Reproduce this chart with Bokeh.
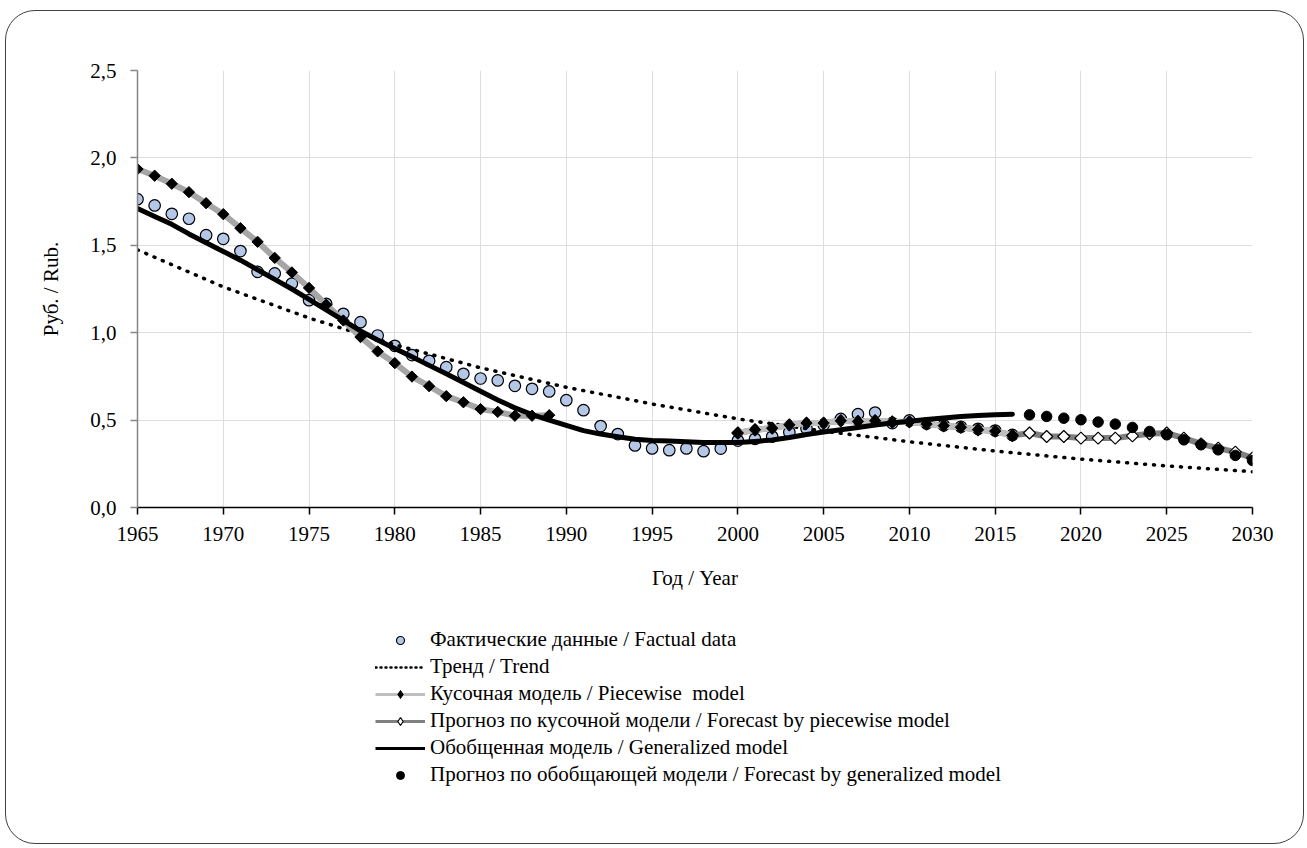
from bokeh.plotting import figure
from bokeh.layouts import column
from bokeh.models import (Legend, LegendItem, FixedTicker, CustomJSTickFormatter,
                          Range1d)
from bokeh.embed import file_html
from bokeh.resources import INLINE

# ---- data -------------------------------------------------------------
fact_years = list(range(1965, 2017))
fact_vals = [1.764, 1.728, 1.680, 1.652, 1.558, 1.537, 1.467, 1.348, 1.339, 1.281,
             1.186, 1.165, 1.108, 1.060, 0.984, 0.925, 0.872, 0.839, 0.803, 0.765,
             0.738, 0.727, 0.696, 0.679, 0.664, 0.614, 0.557, 0.466, 0.420, 0.355,
             0.338, 0.328, 0.338, 0.322, 0.337, 0.383, 0.393, 0.406, 0.431, 0.452,
             0.473, 0.507, 0.534, 0.543, 0.483, 0.498, 0.480, 0.470, 0.462, 0.450,
             0.440, 0.415]

trend_years = [1965, 1970, 1975, 1980, 1985, 1990, 1995, 2000, 2005, 2010, 2015,
               2020, 2025, 2030]
trend_vals = [1.474, 1.262, 1.084, 0.931, 0.799, 0.688, 0.592, 0.507, 0.437, 0.376,
              0.323, 0.277, 0.238, 0.205]

piece1_years = list(range(1965, 1990))
piece1_vals = [1.936, 1.898, 1.852, 1.804, 1.741, 1.678, 1.598, 1.520, 1.428, 1.345,
               1.256, 1.160, 1.070, 0.975, 0.893, 0.826, 0.749, 0.694, 0.637, 0.602,
               0.563, 0.547, 0.525, 0.525, 0.528]

piece2_years = list(range(2000, 2017))
piece2_vals = [0.426, 0.445, 0.454, 0.473, 0.483, 0.483, 0.496, 0.492, 0.496, 0.489,
               0.490, 0.477, 0.468, 0.459, 0.445, 0.437, 0.412]

piece_fc_years = list(range(2017, 2031))
piece_fc_vals = [0.426, 0.406, 0.406, 0.397, 0.397, 0.397, 0.410, 0.422, 0.426, 0.397,
                 0.364, 0.340, 0.317, 0.283]

gen_years = list(range(1965, 2017))
gen_vals = [1.710, 1.665, 1.620, 1.565, 1.515, 1.465, 1.415, 1.360, 1.305, 1.250,
            1.190, 1.130, 1.070, 1.010, 0.958, 0.910, 0.862, 0.813, 0.765, 0.715,
            0.665, 0.615, 0.570, 0.532, 0.500, 0.470, 0.440, 0.420, 0.405, 0.390,
            0.383, 0.380, 0.376, 0.372, 0.372, 0.372, 0.378, 0.386, 0.400, 0.418,
            0.432, 0.445, 0.458, 0.472, 0.484, 0.494, 0.503, 0.512, 0.520, 0.526,
            0.530, 0.534]

gen_fc_years = list(range(2017, 2031))
gen_fc_vals = [0.530, 0.521, 0.511, 0.502, 0.489, 0.477, 0.458, 0.435, 0.416, 0.387,
               0.359, 0.330, 0.298, 0.269]

x_ticks = list(range(1965, 2031, 5))
y_ticks = [0.0, 0.5, 1.0, 1.5, 2.0, 2.5]

series_labels = [
    "Фактические данные / Factual data",
    "Тренд / Trend",
    "Кусочная модель / Piecewise  model",
    "Прогноз по кусочной модели / Forecast by piecewise model",
    "Обобщенная модель / Generalized model",
    "Прогноз по обобщающей модели / Forecast by generalized model",
]

SERIF = "Liberation Serif"

# ---- shared series styles ---------------------------------------------
DIAMOND = dict(marker="square", angle=0.785398)
sty_fact = dict(marker="circle", size=11.5, fill_color="#B4C7E7", line_color="black",
                line_width=1.2)
sty_trend = dict(line_color="black", line_width=3.5, line_dash="1 8", line_cap="round")
sty_p_line = dict(line_color="#A6A6A6", line_width=6, line_join="round")
sty_p_pts = dict(size=8, fill_color="black", line_color="black", **DIAMOND)
sty_pfc_line = dict(line_color="#808080", line_width=6, line_join="round")
sty_pfc_pts = dict(size=8.5, fill_color="white", line_color="black", line_width=1.2,
                   **DIAMOND)
sty_gen = dict(line_color="black", line_width=5, line_join="round", line_cap="round")
sty_gen_fc = dict(marker="circle", size=10.5, fill_color="black", line_color="black")

# ---- chart ------------------------------------------------------------
p = figure(width=1297, height=603,
           x_range=Range1d(1965, 2030), y_range=Range1d(0, 2.5),
           output_backend="svg", toolbar_location=None,
           min_border_left=131, min_border_right=51,
           min_border_top=59, min_border_bottom=107)
p.border_fill_color = None
p.background_fill_color = "white"
p.outline_line_color = None

p.xgrid.grid_line_color = "#DEDEDE"
p.ygrid.grid_line_color = "#DEDEDE"

p.xaxis.ticker = FixedTicker(ticks=x_ticks)
p.yaxis.ticker = FixedTicker(ticks=y_ticks)
p.xaxis.formatter = CustomJSTickFormatter(code="return tick.toFixed(0);")
p.yaxis.formatter = CustomJSTickFormatter(code="return tick.toFixed(1).replace('.', ',');")

for ax in (p.xaxis[0], p.yaxis[0]):
    ax.minor_tick_line_color = None
    ax.major_tick_in = 0
    ax.major_tick_out = 7
    ax.major_label_text_font = SERIF
    ax.major_label_text_font_size = "21px"
    ax.major_label_text_color = "black"
    ax.axis_label_text_font = SERIF
    ax.axis_label_text_font_size = "21px"
    ax.axis_label_text_font_style = "normal"
    ax.axis_label_text_color = "black"

p.xaxis.axis_line_color = "black"
p.xaxis.axis_line_width = 1.5
p.xaxis.major_tick_line_color = "black"
p.xaxis.major_tick_line_width = 1.5
p.xaxis.major_label_standoff = 12
p.xaxis.axis_label = "Год / Year"
p.xaxis.axis_label_standoff = 22

p.yaxis.axis_line_color = "#868686"
p.yaxis.axis_line_width = 1.5
p.yaxis.major_tick_line_color = "#868686"
p.yaxis.major_tick_line_width = 1.5
p.yaxis.major_label_standoff = 14
p.yaxis.axis_label = "Руб. / Rub."
p.yaxis.axis_label_standoff = 24

p.scatter(fact_years, fact_vals, **sty_fact)
p.line(trend_years, trend_vals, **sty_trend)

# piecewise forecast runs on from the second piece of the model
fc_x = piece2_years + piece_fc_years
fc_y = piece2_vals + piece_fc_vals
p.line(fc_x, fc_y, **sty_pfc_line)
p.scatter(fc_x, fc_y, **sty_pfc_pts)

p.line(piece1_years, piece1_vals, **sty_p_line)
p.line(piece2_years, piece2_vals, line_color="#BFBFBF", line_width=6, line_join="round")
p.scatter(piece1_years, piece1_vals, **sty_p_pts)
p.scatter(piece2_years, piece2_vals, **sty_p_pts)

p.line(gen_years, gen_vals, **sty_gen)
p.scatter(gen_fc_years, gen_fc_vals, **sty_gen_fc)

# ---- legend panel -----------------------------------------------------
# The key glyphs re-plot each series on the legend panel's own (0..1) scale,
# where the data fall outside the visible window; only the legend samples show.
lg = figure(width=1297, height=229, x_range=Range1d(0, 1), y_range=Range1d(0, 1),
            output_backend="svg", toolbar_location=None,
            x_axis_type=None, y_axis_type=None, min_border=0)
lg.grid.visible = False
lg.outline_line_color = None
lg.border_fill_color = None
lg.background_fill_color = None

k_fact = lg.scatter(fact_years, fact_vals, **{**sty_fact, "size": 10})
k_trend = lg.line(trend_years, trend_vals, **{**sty_trend, "line_width": 2.5,
                                              "line_dash": "1 4"})
k_p_line = lg.line(piece1_years, piece1_vals, **{**sty_p_line, "line_color": "#BFBFBF",
                                                 "line_width": 3})
k_p_pts = lg.scatter(piece1_years, piece1_vals, marker="diamond", size=12,
                     fill_color="black", line_color="black")
k_pfc_line = lg.line(piece_fc_years, piece_fc_vals, **{**sty_pfc_line, "line_width": 3})
k_pfc_pts = lg.scatter(piece_fc_years, piece_fc_vals, marker="diamond", size=12,
                       fill_color="white", line_color="black", line_width=1.2)
k_gen = lg.line(gen_years, gen_vals, **{**sty_gen, "line_width": 3, "line_cap": "butt"})
k_gen_fc = lg.scatter(gen_fc_years, gen_fc_vals, **{**sty_gen_fc, "size": 8})

legend = Legend(items=[
    LegendItem(label=series_labels[0], renderers=[k_fact]),
    LegendItem(label=series_labels[1], renderers=[k_trend]),
    LegendItem(label=series_labels[2], renderers=[k_p_line, k_p_pts]),
    LegendItem(label=series_labels[3], renderers=[k_pfc_line, k_pfc_pts]),
    LegendItem(label=series_labels[4], renderers=[k_gen]),
    LegendItem(label=series_labels[5], renderers=[k_gen_fc]),
], location=(238, 56))
legend.label_text_font = SERIF
legend.label_text_font_size = "21px"
legend.label_text_color = "black"
legend.glyph_width = 50
legend.glyph_height = 20
legend.label_height = 20
legend.spacing = 2
legend.label_standoff = 5
legend.padding = 0
legend.margin = 0
legend.border_line_color = None
legend.background_fill_alpha = 0
lg.add_layout(legend, "center")

page = column(p, lg, spacing=0)
page.styles = {"margin-left": "5px", "margin-top": "10px",
               "border": "1.5px solid #404040", "border-radius": "30px"}

open("out.html", "w").write(file_html(page, INLINE))
